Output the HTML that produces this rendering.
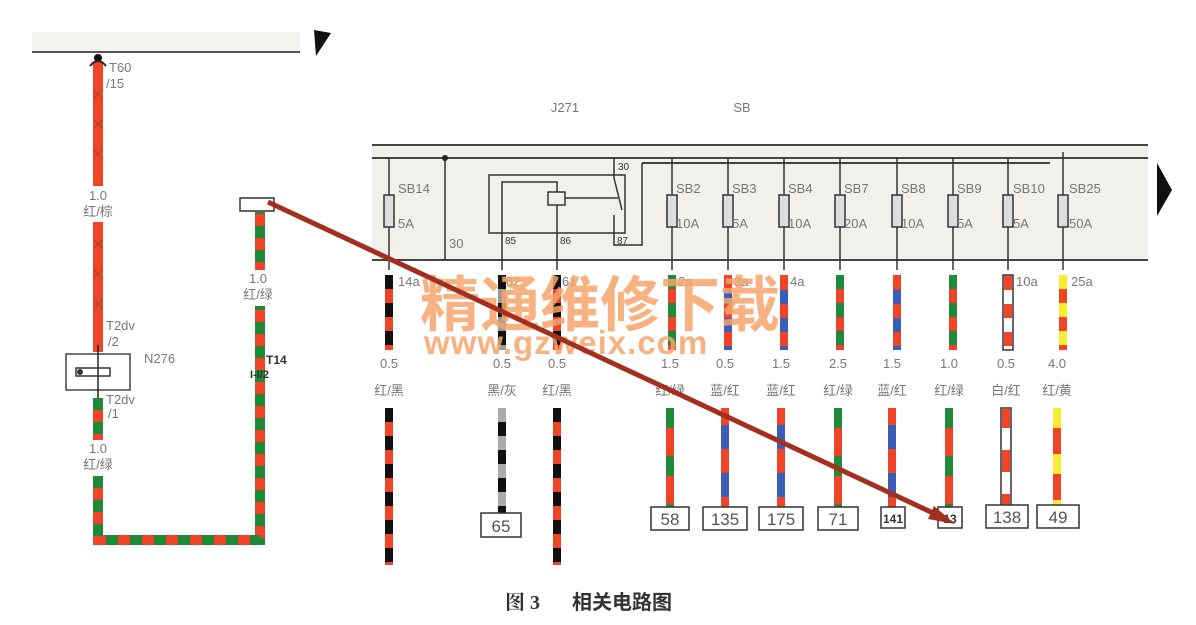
<!DOCTYPE html>
<html><head><meta charset="utf-8"><style>
html,body{margin:0;padding:0;background:#fff;}
svg{display:block}
text{font-family:"Liberation Sans","Noto Sans CJK SC",sans-serif;fill:#777;font-size:13px}
.c{text-anchor:middle}
.box{fill:#fff;stroke:#333;stroke-width:1.5}
.bn{font-size:17px;fill:#555;text-anchor:middle}
</style></head><body>
<svg width="1196" height="625" viewBox="0 0 1196 625" xmlns="http://www.w3.org/2000/svg">
<rect x="32" y="32" width="268" height="20" fill="#f3f3ef"/>
<line x1="32" y1="52" x2="300" y2="52" stroke="#555" stroke-width="2"/>
<polygon points="314,30 331,33 316,56" fill="#111"/>
<line x1="98" y1="62" x2="98" y2="186" stroke="#f04428" stroke-width="10"/>
<line x1="98" y1="222" x2="98" y2="352" stroke="#f04428" stroke-width="10"/>
<g stroke="#8a3a2a" stroke-width="1" opacity="0.6">
<path d="M94,90 L102,98 M102,90 L94,98 M94,120 L102,128 M102,120 L94,128 M94,150 L102,158 M102,150 L94,158 M94,240 L102,248 M102,240 L94,248 M94,270 L102,278 M102,270 L94,278 M94,300 L102,308 M102,300 L94,308"/>
</g>
<circle cx="98" cy="58" r="4" fill="#111"/>
<path d="M90,66 Q98,56 106,66" stroke="#222" fill="none" stroke-width="2"/>
<text x="109" y="72">T60</text><text x="106" y="88">/15</text>
<text x="98" y="200" class="c">1.0</text><text x="98" y="216" class="c">红/棕</text>
<text x="106" y="330">T2dv</text><text x="108" y="346">/2</text>
<rect x="66" y="354" width="64" height="36" fill="#fff" stroke="#444" stroke-width="1.5"/>
<line x1="98" y1="345" x2="98" y2="400" stroke="#222" stroke-width="1.5"/>
<rect x="76" y="368" width="34" height="8" fill="none" stroke="#333" stroke-width="1.5"/>
<circle cx="80" cy="372" r="3" fill="#333"/>
<text x="144" y="363">N276</text>
<text x="106" y="404">T2dv</text><text x="108" y="418">/1</text>
<line x1="98" y1="398" x2="98" y2="440" stroke="#f04428" stroke-width="10"/>
<line x1="98" y1="398" x2="98" y2="440" stroke="#1e8a3a" stroke-width="10" stroke-dasharray="12 12"/>
<text x="98" y="453" class="c">1.0</text><text x="98" y="469" class="c">红/绿</text>
<path d="M98,476 V540 H260 V212" fill="none" stroke="#f04428" stroke-width="10"/>
<path d="M98,476 V540 H260 V212" fill="none" stroke="#1e8a3a" stroke-width="10" stroke-dasharray="12 12"/>
<rect x="252" y="270" width="18" height="36" fill="#fff"/>
<text x="258" y="283" class="c">1.0</text><text x="258" y="299" class="c">红/绿</text>
<text x="266" y="364" style="font-weight:bold;fill:#333;font-size:12px">T14</text>
<text x="250" y="378" style="font-weight:bold;fill:#333;font-size:11px">I-I/2</text>
<rect x="240" y="198" width="34" height="13" fill="#fff" stroke="#333" stroke-width="1.5"/>
<text x="565" y="112" class="c">J271</text><text x="742" y="112" class="c">SB</text>
<rect x="372" y="145" width="776" height="115" fill="#f1f0ec"/>
<line x1="372" y1="145" x2="1148" y2="145" stroke="#444" stroke-width="2"/>
<line x1="372" y1="158" x2="1148" y2="158" stroke="#444" stroke-width="2"/>
<line x1="642" y1="163" x2="1050" y2="163" stroke="#444" stroke-width="2"/>
<line x1="372" y1="260" x2="1148" y2="260" stroke="#444" stroke-width="2"/>
<polygon points="1157,163 1172,190 1157,216" fill="#111"/>
<line x1="445" y1="158" x2="445" y2="260" stroke="#333" stroke-width="1.5"/>
<circle cx="445" cy="158" r="3" fill="#222"/>
<text x="449" y="248">30</text>
<rect x="489" y="175" width="136" height="58" fill="none" stroke="#333" stroke-width="1.5"/>
<path d="M502,270 V182 H557 V192" fill="none" stroke="#333" stroke-width="1.5"/>
<rect x="548" y="192" width="17" height="13" fill="none" stroke="#333" stroke-width="1.5"/>
<path d="M557,205 V270 M565,198 H618 M614,158 V178 L622,210 M614,215 V245 H642 V163" fill="none" stroke="#333" stroke-width="1.5"/>
<text x="618" y="170" style="font-size:10px;fill:#333">30</text>
<text x="505" y="244" style="font-size:10px;fill:#333">85</text>
<text x="560" y="244" style="font-size:10px;fill:#333">86</text>
<text x="617" y="244" style="font-size:10px;fill:#333">87</text>
<g stroke="#333" stroke-width="1.5" fill="#ddd">
<line x1="389" y1="158" x2="389" y2="270"/><rect x="384" y="195" width="10" height="32"/>
<line x1="672" y1="158" x2="672" y2="270"/><rect x="667" y="195" width="10" height="32"/>
<line x1="728" y1="158" x2="728" y2="270"/><rect x="723" y="195" width="10" height="32"/>
<line x1="784" y1="158" x2="784" y2="270"/><rect x="779" y="195" width="10" height="32"/>
<line x1="840" y1="158" x2="840" y2="270"/><rect x="835" y="195" width="10" height="32"/>
<line x1="897" y1="158" x2="897" y2="270"/><rect x="892" y="195" width="10" height="32"/>
<line x1="953" y1="158" x2="953" y2="270"/><rect x="948" y="195" width="10" height="32"/>
<line x1="1008" y1="158" x2="1008" y2="270"/><rect x="1003" y="195" width="10" height="32"/>
<line x1="1063" y1="152" x2="1063" y2="270"/><rect x="1058" y="195" width="10" height="32"/>
</g>
<text x="398" y="193">SB14</text><text x="398" y="228">5A</text>
<text x="676" y="193">SB2</text><text x="676" y="228">10A</text>
<text x="732" y="193">SB3</text><text x="732" y="228">5A</text>
<text x="788" y="193">SB4</text><text x="788" y="228">10A</text>
<text x="844" y="193">SB7</text><text x="844" y="228">20A</text>
<text x="901" y="193">SB8</text><text x="901" y="228">10A</text>
<text x="957" y="193">SB9</text><text x="957" y="228">5A</text>
<text x="1013" y="193">SB10</text><text x="1013" y="228">5A</text>
<text x="1069" y="193">SB25</text><text x="1069" y="228">50A</text>
<rect x="1003" y="275" width="10" height="75" fill="none" stroke="#333" stroke-width="1.5"/>
<rect x="1001" y="408" width="10" height="97" fill="none" stroke="#333" stroke-width="1.5"/>
<g stroke-width="8">
<line x1="389" y1="275" x2="389" y2="350" stroke="#f04428"/><line x1="389" y1="275" x2="389" y2="350" stroke="#111" stroke-dasharray="14 14"/>
<line x1="502" y1="275" x2="502" y2="350" stroke="#999"/><line x1="502" y1="275" x2="502" y2="350" stroke="#111" stroke-dasharray="14 14"/>
<line x1="557" y1="275" x2="557" y2="350" stroke="#f04428"/><line x1="557" y1="275" x2="557" y2="350" stroke="#111" stroke-dasharray="14 14"/>
<line x1="672" y1="275" x2="672" y2="350" stroke="#f04428"/><line x1="672" y1="275" x2="672" y2="350" stroke="#1e8a3a" stroke-dasharray="14 14"/>
<line x1="728" y1="275" x2="728" y2="350" stroke="#f04428"/><line x1="728" y1="290" x2="728" y2="350" stroke="#3a5db8" stroke-dasharray="14 14"/>
<line x1="784" y1="275" x2="784" y2="350" stroke="#f04428"/><line x1="784" y1="290" x2="784" y2="350" stroke="#3a5db8" stroke-dasharray="14 14"/>
<line x1="840" y1="275" x2="840" y2="350" stroke="#f04428"/><line x1="840" y1="275" x2="840" y2="350" stroke="#1e8a3a" stroke-dasharray="14 14"/>
<line x1="897" y1="275" x2="897" y2="350" stroke="#f04428"/><line x1="897" y1="290" x2="897" y2="350" stroke="#3a5db8" stroke-dasharray="14 14"/>
<line x1="953" y1="275" x2="953" y2="350" stroke="#f04428"/><line x1="953" y1="275" x2="953" y2="350" stroke="#1e8a3a" stroke-dasharray="14 14"/>
<line x1="1008" y1="276" x2="1008" y2="349" stroke="#f04428"/><line x1="1008" y1="290" x2="1008" y2="349" stroke="#fff" stroke-dasharray="14 14"/>
<line x1="1063" y1="275" x2="1063" y2="350" stroke="#f04428"/><line x1="1063" y1="275" x2="1063" y2="350" stroke="#f6ee30" stroke-dasharray="14 14"/>
<line x1="389" y1="408" x2="389" y2="565" stroke="#f04428"/><line x1="389" y1="408" x2="389" y2="565" stroke="#111" stroke-dasharray="14 14"/>
<line x1="502" y1="408" x2="502" y2="513" stroke="#aaa"/><line x1="502" y1="422" x2="502" y2="513" stroke="#111" stroke-dasharray="14 14"/>
<line x1="557" y1="408" x2="557" y2="565" stroke="#f04428"/><line x1="557" y1="408" x2="557" y2="565" stroke="#111" stroke-dasharray="14 14"/>
<line x1="670" y1="408" x2="670" y2="507" stroke="#f04428"/><line x1="670" y1="408" x2="670" y2="507" stroke="#1e8a3a" stroke-dasharray="20 28"/>
<line x1="725" y1="408" x2="725" y2="507" stroke="#f04428"/><line x1="725" y1="425" x2="725" y2="507" stroke="#3a5db8" stroke-dasharray="24 24"/>
<line x1="781" y1="408" x2="781" y2="507" stroke="#f04428"/><line x1="781" y1="425" x2="781" y2="507" stroke="#3a5db8" stroke-dasharray="24 24"/>
<line x1="838" y1="408" x2="838" y2="507" stroke="#f04428"/><line x1="838" y1="408" x2="838" y2="507" stroke="#1e8a3a" stroke-dasharray="20 28"/>
<line x1="892" y1="408" x2="892" y2="507" stroke="#f04428"/><line x1="892" y1="425" x2="892" y2="507" stroke="#3a5db8" stroke-dasharray="24 24"/>
<line x1="949" y1="408" x2="949" y2="507" stroke="#f04428"/><line x1="949" y1="408" x2="949" y2="507" stroke="#1e8a3a" stroke-dasharray="20 28"/>
<line x1="1006" y1="409" x2="1006" y2="504" stroke="#f04428"/><line x1="1006" y1="428" x2="1006" y2="504" stroke="#fff" stroke-dasharray="22 22"/>
<line x1="1057" y1="408" x2="1057" y2="505" stroke="#f04428"/><line x1="1057" y1="408" x2="1057" y2="505" stroke="#f6ee30" stroke-dasharray="20 26"/>
</g>
<text x="398" y="286">14a</text><text x="506" y="286">62</text><text x="562" y="286">61</text>
<text x="678" y="286">2a</text><text x="734" y="286">3a</text><text x="790" y="286">4a</text>
<text x="1016" y="286">10a</text><text x="1071" y="286">25a</text>
<text x="389" y="368" class="c">0.5</text><text x="502" y="368" class="c">0.5</text><text x="557" y="368" class="c">0.5</text>
<text x="670" y="368" class="c">1.5</text><text x="725" y="368" class="c">0.5</text><text x="781" y="368" class="c">1.5</text>
<text x="838" y="368" class="c">2.5</text><text x="892" y="368" class="c">1.5</text><text x="949" y="368" class="c">1.0</text>
<text x="1006" y="368" class="c">0.5</text><text x="1057" y="368" class="c">4.0</text>
<text x="389" y="395" class="c">红/黑</text><text x="502" y="395" class="c">黑/灰</text><text x="557" y="395" class="c">红/黑</text>
<text x="670" y="395" class="c">红/绿</text><text x="725" y="395" class="c">蓝/红</text><text x="781" y="395" class="c">蓝/红</text>
<text x="838" y="395" class="c">红/绿</text><text x="892" y="395" class="c">蓝/红</text><text x="949" y="395" class="c">红/绿</text>
<text x="1006" y="395" class="c">白/红</text><text x="1057" y="395" class="c">红/黄</text>
<rect x="481" y="513" width="40" height="24" class="box"/><text x="501" y="532" class="bn">65</text>
<rect x="651" y="507" width="38" height="23" class="box"/><text x="670" y="525" class="bn">58</text>
<rect x="703" y="507" width="44" height="23" class="box"/><text x="725" y="525" class="bn">135</text>
<rect x="759" y="507" width="44" height="23" class="box"/><text x="781" y="525" class="bn">175</text>
<rect x="818" y="507" width="40" height="23" class="box"/><text x="838" y="525" class="bn">71</text>
<rect x="881" y="507" width="24" height="21" class="box"/><text x="893" y="523" class="bn" style="font-size:12px;font-weight:bold;fill:#333">141</text>
<rect x="938" y="507" width="24" height="21" class="box"/><text x="950" y="523" class="bn" style="font-size:12px;font-weight:bold;fill:#333">13</text>
<rect x="986" y="505" width="42" height="23" class="box"/><text x="1007" y="523" class="bn">138</text>
<rect x="1037" y="505" width="42" height="23" class="box"/><text x="1058" y="523" class="bn">49</text>
<text x="420" y="326" style="font-size:60px;font-weight:bold;fill:#f7a46c;opacity:0.85">精通维修下载</text>
<text x="424" y="354" style="font-size:33px;font-weight:bold;fill:#f7a46c;opacity:0.85;letter-spacing:1px">www.gzweix.com</text>
<line x1="268" y1="202" x2="948" y2="520" stroke="#a3301e" stroke-width="5"/>
<polygon points="955,524 934,506 928,519" fill="#a3301e"/>
<text x="505" y="609" style="font-size:20px;font-weight:bold;fill:#333;font-family:'Liberation Serif','Noto Serif CJK SC',serif">图 3</text>
<text x="572" y="609" style="font-size:20px;font-weight:bold;fill:#333;font-family:'Liberation Sans','Noto Sans CJK SC',sans-serif">相关电路图</text>
</svg>
</body></html>
